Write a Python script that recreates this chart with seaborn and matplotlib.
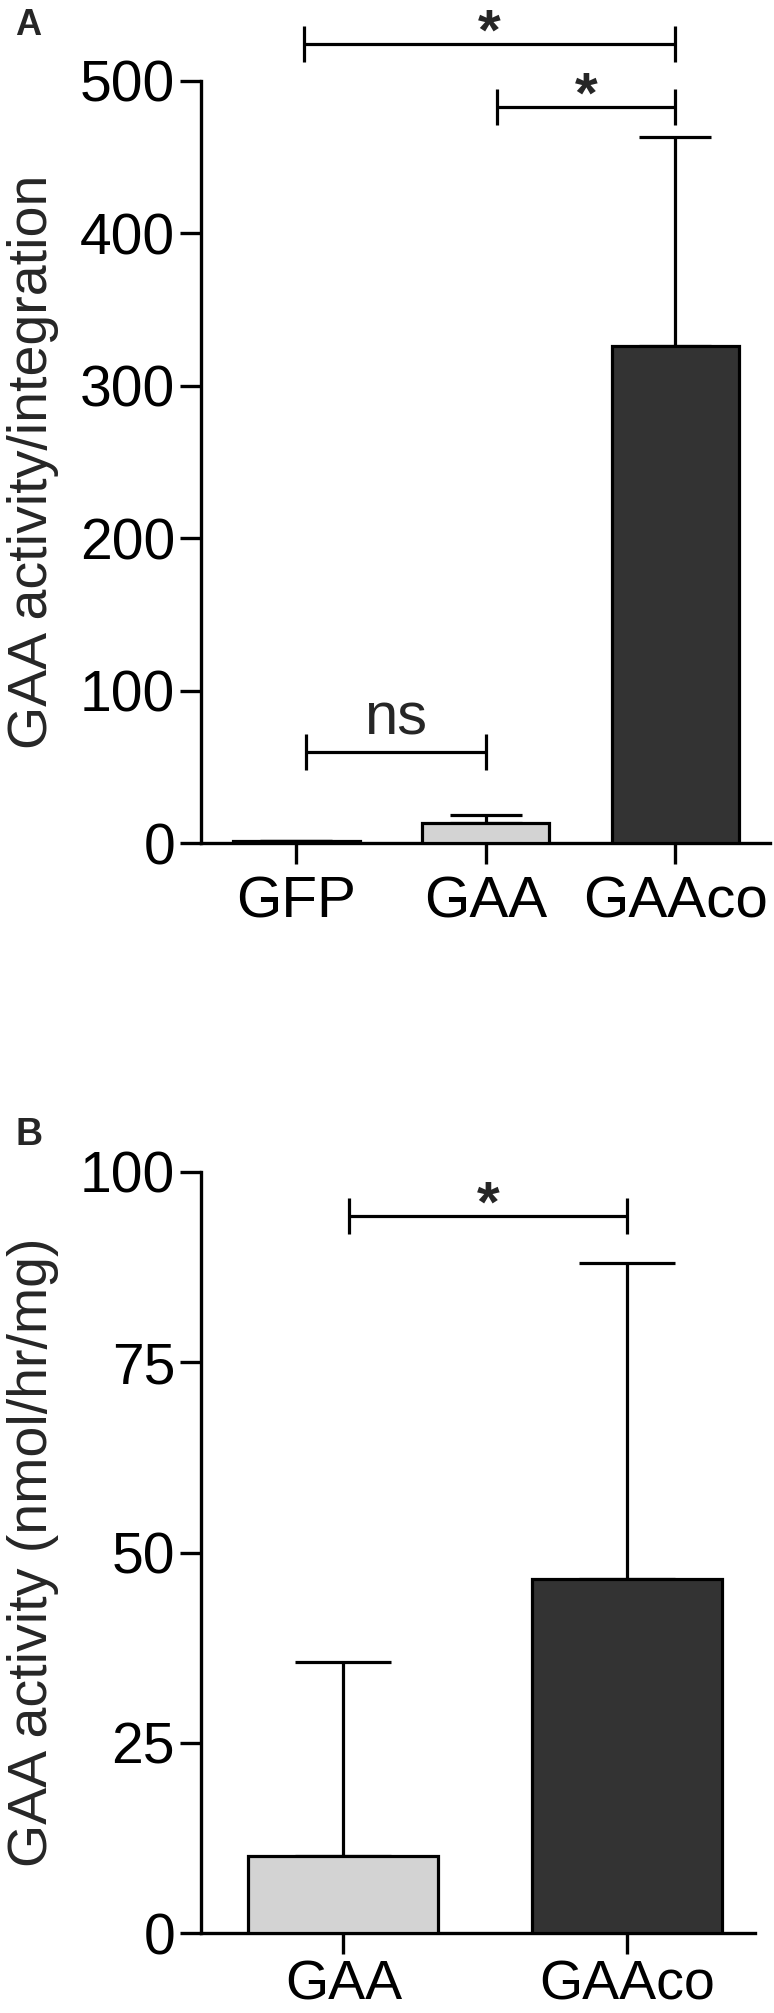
import matplotlib
matplotlib.use("Agg")
import matplotlib.pyplot as plt
import seaborn as sns
import numpy as np

# ---------------- data ----------------
cats_a = ["GFP", "GAA", "GAAco"]
vals_a = [1.2, 13.2, 326.0]
errs_a = [0.0, 4.9, 137.0]
colors_a = ["#ffffff", "#d3d3d3", "#333333"]
yticks_a = [0, 100, 200, 300, 400, 500]
ylabel_a = "GAA activity/integration"
# brackets: (x_start, x_end, level, text)
brackets_a = [(0.04, 2.0, 524, "*"), (1.06, 2.0, 483, "*"), (0.05, 1.0, 60, "ns")]

cats_b = ["GAA", "GAAco"]
vals_b = [10.1, 46.5]
errs_b = [25.5, 41.6]
colors_b = ["#d3d3d3", "#333333"]
yticks_b = [0, 25, 50, 75, 100]
ylabel_b = "GAA activity (nmol/hr/mg)"
brackets_b = [(0.02, 1.0, 94.2, "*")]

# ---------------- style ----------------
sns.set_style("ticks")
plt.rcParams["font.family"] = ["Liberation Sans", "DejaVu Sans"]

LW = 2.3

fig = plt.figure(figsize=(7.74, 20.13), dpi=100)
axA = fig.add_axes([0.2603, 0.5812, 0.7345, 0.3786])
axB = fig.add_axes([0.2603, 0.0397, 0.7151, 0.3781])


def draw(ax, cats, vals, errs, colors, yticks, ylabel, brackets, xlim, capsize,
         tick_h, label_x, xl_size, xl_pad):
    sns.barplot(x=cats, y=vals, hue=cats, palette=colors, width=0.67,
                edgecolor="black", linewidth=LW, legend=False, ax=ax,
                saturation=1, zorder=3)
    xs = np.arange(len(cats))
    ax.errorbar(xs, vals, yerr=[np.zeros(len(vals)), errs], fmt="none",
                ecolor="black", elinewidth=LW, capsize=capsize, capthick=LW,
                zorder=2)
    ax.set_xlim(*xlim)
    ax.set_ylim(yticks[0], yticks[-1])
    ax.set_yticks(yticks)
    ax.set_xlabel("")
    ax.set_ylabel(ylabel, fontsize=40)
    ax.yaxis.set_label_coords(label_x, 0.5)
    sns.despine(ax=ax)
    for sp in ("left", "bottom"):
        ax.spines[sp].set_linewidth(2.4)
        ax.spines[sp].set_color("black")
    ax.tick_params(axis="y", labelsize=41, length=15, width=2.4, pad=4,
                   color="black", labelcolor="black")
    ax.tick_params(axis="x", labelsize=xl_size, length=15, width=2.4,
                   pad=xl_pad, color="black", labelcolor="black")
    for x1, x2, lev, txt in brackets:
        ax.plot([x1, x2], [lev, lev], color="black", lw=LW, clip_on=False,
                solid_capstyle="butt")
        for xx in (x1, x2):
            ax.plot([xx, xx], [lev - tick_h, lev + tick_h], color="black",
                    lw=LW, clip_on=False, solid_capstyle="butt")
        if txt == "*":
            ax.annotate(txt, xy=((x1 + x2) / 2, lev), xytext=(0, -4),
                        textcoords="offset points", ha="center",
                        va="baseline", fontsize=42, fontweight="bold",
                        annotation_clip=False)
        else:
            ax.annotate(txt, xy=((x1 + x2) / 2, lev), xytext=(0, 12),
                        textcoords="offset points", ha="center",
                        va="baseline", fontsize=43, annotation_clip=False)


draw(axA, cats_a, vals_a, errs_a, colors_a, yticks_a, ylabel_a, brackets_a,
     (-0.5, 2.5), 26, 11.8, (59 - 201.5) / 568.5, 42, 8.5)
draw(axB, cats_b, vals_b, errs_b, colors_b, yticks_b, ylabel_b, brackets_b,
     (-0.5, 1.45), 34.5, 2.4, (59 - 201.5) / 553.5, 40, 4.0)

fig.text(15 / 774, 1 - 35 / 2013, "A", fontsize=26, fontweight="bold",
         ha="left", va="baseline")
fig.text(15 / 774, 1 - 1145 / 2013, "B", fontsize=27, fontweight="bold",
         ha="left", va="baseline")

fig.savefig("out.png", dpi=100)
